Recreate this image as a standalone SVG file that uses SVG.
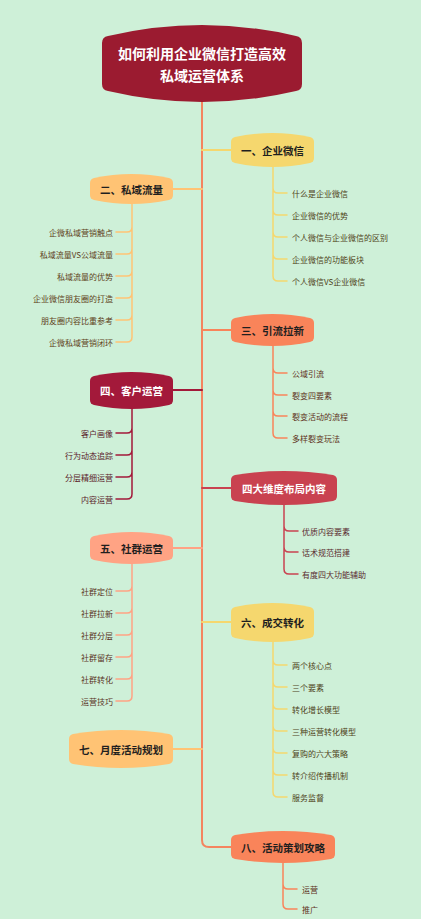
<svg xmlns="http://www.w3.org/2000/svg" width="421" height="919" viewBox="0 0 421 919">
<style>
.bg{fill:#cef0d8}
.ln{fill:none;stroke-width:1.5;stroke-linecap:round}
.sp{fill:none;stroke:#f4845f;stroke-width:2}
.tt{font-family:"Noto Sans CJK SC","Noto Sans",sans-serif;font-size:14px;font-weight:bold;fill:#ffffff;text-anchor:middle;dominant-baseline:central}
.nt{font-family:"Noto Sans CJK SC","Noto Sans",sans-serif;font-size:10.5px;font-weight:bold;text-anchor:middle;dominant-baseline:central}
.lf{font-family:"Noto Sans CJK SC","Noto Sans",sans-serif;font-size:8px;dominant-baseline:central}
.r{text-anchor:start}
.l{text-anchor:end}
.y{stroke:#f5d76e}.yf{fill:#f5d76e}.yt{fill:#4e4318}
.o{stroke:#ffc374}.of{fill:#ffc374}.ot{fill:#5e4220}
.c{stroke:#f9845a}.cf{fill:#f9845a}.ct{fill:#5e3020}
.k{stroke:#a3193a}.kf{fill:#a3193a}.kt{fill:#5a1a2a}
.m{stroke:#c94250}.mf{fill:#c94250}.mt{fill:#5a2a2e}
.s{stroke:#ffa384}.sf{fill:#ffa384}.st{fill:#5a3426}
.dk{fill:#1f1f1f}.wh{fill:#ffffff}
</style>
<rect class="bg" x="0" y="0" width="421" height="919"/>

<g id="connectors">
<path class="sp" d="M202,102 L202,840 Q202,847 209,847 L231,847"/>
<path class="ln y" d="M202,150 L231,150" style="stroke-width:2"/>
<path class="ln o" d="M173,189 L202,189" style="stroke-width:2"/>
<path class="ln c" d="M202,330 L231,330" style="stroke-width:2"/>
<path class="ln k" d="M173,390 L202,390" style="stroke-width:2"/>
<path class="ln m" d="M202,488 L231,488" style="stroke-width:2"/>
<path class="ln s" d="M173,548 L202,548" style="stroke-width:2"/>
<path class="ln y" d="M202,622 L231,622" style="stroke-width:2"/>
<path class="ln o" d="M173,749 L202,749" style="stroke-width:2"/>

<!-- 一 children -->
<path class="ln y" d="M273,167 L273,276 M273,188 Q273,193 278,193 L287,193 M273,210 Q273,215 278,215 L287,215 M273,232 Q273,237 278,237 L287,237 M273,254 Q273,259 278,259 L287,259 M273,276 Q273,281 278,281 L287,281"/>
<!-- 二 children -->
<path class="ln o" d="M132,204 L132,337 M132,227 Q132,232 127,232 L116,232 M132,249 Q132,254 127,254 L116,254 M132,271 Q132,276 127,276 L116,276 M132,293 Q132,298 127,298 L116,298 M132,315 Q132,320 127,320 L116,320 M132,337 Q132,342 127,342 L116,342"/>
<!-- 三 children -->
<path class="ln c" d="M273,346 L273,433 M273,368 Q273,373 278,373 L287,373 M273,390 Q273,395 278,395 L287,395 M273,411 Q273,416 278,416 L287,416 M273,433 Q273,438 278,438 L287,438"/>
<!-- 四 children -->
<path class="ln k" d="M132,409 L132,494 M132,428 Q132,433 127,433 L116,433 M132,450 Q132,455 127,455 L116,455 M132,472 Q132,477 127,477 L116,477 M132,494 Q132,499 127,499 L116,499"/>
<!-- 四大 children -->
<path class="ln m" d="M284,505 L284,569 M284,526 Q284,531 289,531 L298,531 M284,547 Q284,552 289,552 L298,552 M284,569 Q284,574 289,574 L298,574"/>
<!-- 五 children -->
<path class="ln s" d="M132,564 L132,696 M132,586 Q132,591 127,591 L116,591 M132,608 Q132,613 127,613 L116,613 M132,630 Q132,635 127,635 L116,635 M132,652 Q132,657 127,657 L116,657 M132,674 Q132,679 127,679 L116,679 M132,696 Q132,701 127,701 L116,701"/>
<!-- 六 children -->
<path class="ln y" d="M273,642 L273,792 M273,660 Q273,665 278,665 L287,665 M273,682 Q273,687 278,687 L287,687 M273,704 Q273,709 278,709 L287,709 M273,726 Q273,731 278,731 L287,731 M273,748 Q273,753 278,753 L287,753 M273,770 Q273,775 278,775 L287,775 M273,792 Q273,797 278,797 L287,797"/>
<!-- 八 children -->
<path class="ln c" d="M283,863 L283,904 M283,884 Q283,889 288,889 L297,889 M283,904 Q283,909 288,909 L297,909"/>
</g>

<g id="title">
<path fill="#9b1b30" d="M102,43 Q102,37 108,36 Q202,14 296,36 Q302,37 302,43 L302,84 Q302,90 296,91 Q202,113 108,91 Q102,90 102,84 Z"/>
<text class="tt" x="202" y="53">如何利用企业微信打造高效</text>
<text class="tt" x="202" y="75">私域运营体系</text>
</g>

<g id="n1">
<path class="yf" d="M231,142 Q231,138 235,137 Q272.5,129 310,137 Q314,138 314,142 L314,158 Q314,162 310,163 Q272.5,171 235,163 Q231,162 231,158 Z"/>
<text class="nt dk" x="272.5" y="150">一、企业微信</text>
<text class="lf r yt" x="292" y="193">什么是企业微信</text>
<text class="lf r yt" x="292" y="215">企业微信的优势</text>
<text class="lf r yt" x="292" y="237">个人微信与企业微信的区别</text>
<text class="lf r yt" x="292" y="259">企业微信的功能板块</text>
<text class="lf r yt" x="292" y="281">个人微信VS企业微信</text>
</g>

<g id="n2">
<path class="of" d="M90,183 Q90,179 94,178 Q131.5,170 169,178 Q173,179 173,183 L173,195 Q173,199 169,200 Q131.5,208 94,200 Q90,199 90,195 Z"/>
<text class="nt dk" x="131.5" y="189">二、私域流量</text>
<text class="lf l ot" x="113" y="232">企微私域营销触点</text>
<text class="lf l ot" x="113" y="254">私域流量VS公域流量</text>
<text class="lf l ot" x="113" y="276">私域流量的优势</text>
<text class="lf l ot" x="113" y="298">企业微信朋友圈的打造</text>
<text class="lf l ot" x="113" y="320">朋友圈内容比重参考</text>
<text class="lf l ot" x="113" y="342">企微私域营销闭环</text>
</g>

<g id="n3">
<path class="cf" d="M231,323 Q231,319 235,318 Q272.5,310 310,318 Q314,319 314,323 L314,337 Q314,341 310,342 Q272.5,350 235,342 Q231,341 231,337 Z"/>
<text class="nt dk" x="272.5" y="330">三、引流拉新</text>
<text class="lf r ct" x="292" y="373">公域引流</text>
<text class="lf r ct" x="292" y="395">裂变四要素</text>
<text class="lf r ct" x="292" y="416">裂变活动的流程</text>
<text class="lf r ct" x="292" y="438">多样裂变玩法</text>
</g>

<g id="n4">
<path class="kf" d="M90,381 Q90,377 94,376 Q131.5,368 169,376 Q173,377 173,381 L173,400 Q173,404 169,405 Q131.5,413 94,405 Q90,404 90,400 Z"/>
<text class="nt wh" x="131.5" y="390.5">四、客户运营</text>
<text class="lf l kt" x="113" y="433">客户画像</text>
<text class="lf l kt" x="113" y="455">行为动态追踪</text>
<text class="lf l kt" x="113" y="477">分层精细运营</text>
<text class="lf l kt" x="113" y="499">内容运营</text>
</g>

<g id="n4b">
<path class="mf" d="M231,480 Q231,476 235,475 Q284,467 333,475 Q337,476 337,480 L337,496 Q337,500 333,501 Q284,509 235,501 Q231,500 231,496 Z"/>
<text class="nt wh" x="284" y="488">四大维度布局内容</text>
<text class="lf r mt" x="302" y="531">优质内容要素</text>
<text class="lf r mt" x="302" y="552">话术规范搭建</text>
<text class="lf r mt" x="302" y="574">有度四大功能辅助</text>
</g>

<g id="n5">
<path class="sf" d="M90,541 Q90,537 94,536 Q131.5,528 169,536 Q173,537 173,541 L173,555 Q173,559 169,560 Q131.5,568 94,560 Q90,559 90,555 Z"/>
<text class="nt dk" x="131.5" y="548">五、社群运营</text>
<text class="lf l st" x="113" y="591">社群定位</text>
<text class="lf l st" x="113" y="613">社群拉新</text>
<text class="lf l st" x="113" y="635">社群分层</text>
<text class="lf l st" x="113" y="657">社群留存</text>
<text class="lf l st" x="113" y="679">社群转化</text>
<text class="lf l st" x="113" y="701">运营技巧</text>
</g>

<g id="n6">
<path class="yf" d="M231,612 Q231,608 235,607 Q272.5,599 310,607 Q314,608 314,612 L314,633 Q314,637 310,638 Q272.5,646 235,638 Q231,637 231,633 Z"/>
<text class="nt dk" x="272.5" y="622.5">六、成交转化</text>
<text class="lf r yt" x="292" y="665">两个核心点</text>
<text class="lf r yt" x="292" y="687">三个要素</text>
<text class="lf r yt" x="292" y="709">转化增长模型</text>
<text class="lf r yt" x="292" y="731">三种运营转化模型</text>
<text class="lf r yt" x="292" y="753">复购的六大策略</text>
<text class="lf r yt" x="292" y="775">转介绍传播机制</text>
<text class="lf r yt" x="292" y="797">服务监督</text>
</g>

<g id="n7">
<path class="of" d="M69,739 Q69,735 73,734 Q121,726 169,734 Q173,735 173,739 L173,759 Q173,763 169,764 Q121,772 73,764 Q69,763 69,759 Z"/>
<text class="nt dk" x="121" y="749">七、月度活动规划</text>
</g>

<g id="n8">
<path class="cf" d="M231,840 Q231,836 235,835 Q283,827 331,835 Q335,836 335,840 L335,854 Q335,858 331,859 Q283,867 235,859 Q231,858 231,854 Z"/>
<text class="nt dk" x="283" y="847">八、活动策划攻略</text>
<text class="lf r ct" x="302" y="889">运营</text>
<text class="lf r ct" x="302" y="909">推广</text>
</g>
</svg>
